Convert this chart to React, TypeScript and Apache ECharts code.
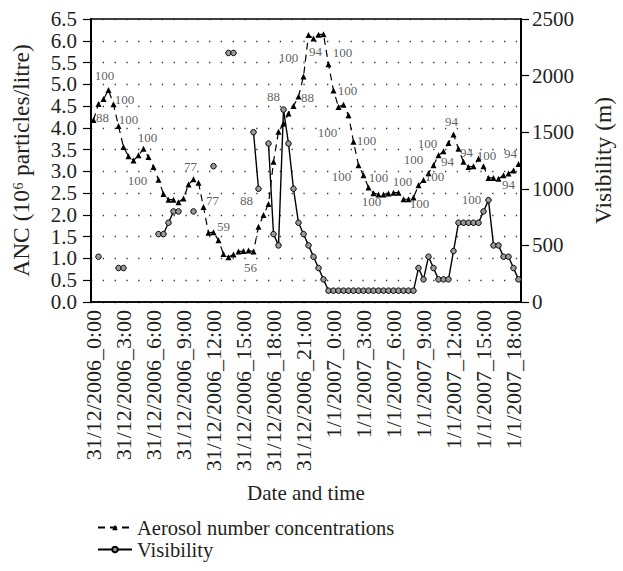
import React, { useEffect, useRef } from "react";
import * as echarts from "echarts";

// 30-minute steps from 31/12/2006 0:00 to 1/1/2007 18:30
const STEP_COUNT = 86;
const categories: string[] = [];
for (let k = 0; k < STEP_COUNT; k++) {
  const day = k < 48 ? "31/12/2006" : "1/1/2007";
  const h = Math.floor(k / 2) % 24;
  const m = k % 2 === 0 ? "00" : "30";
  categories.push(`${day}_${h}:${m}`);
}

// Aerosol number concentrations (10^6 particles/litre)
const ancValues: number[] = [
  4.18, 4.55, 4.66, 4.87, 4.54, 4.04, 3.56, 3.35, 3.25, 3.37,
  3.52, 3.33, 3.1, 2.81, 2.48, 2.35, 2.35, 2.29, 2.38, 2.7,
  2.82, 2.74, 2.18, 1.59, 1.6, 1.42, 1.1, 1.03, 1.09, 1.16,
  1.17, 1.18, 1.16, 1.73, 2.0, 2.25, 3.22, 3.91, 4.1, 4.33,
  4.5, 4.72, 5.18, 6.13, 6.05, 6.14, 6.15, 5.46, 4.86, 4.48,
  4.53, 4.29, 3.68, 3.14, 2.91, 2.63, 2.5, 2.47, 2.47, 2.49,
  2.51, 2.51, 2.36, 2.36, 2.4, 2.68, 2.8, 2.96, 3.14, 3.37,
  3.46, 3.65, 3.85, 3.52, 3.22, 3.1, 3.12, 3.29, 3.12, 2.85,
  2.85, 2.83, 2.91, 2.95, 3.02, 3.17,
];

// Visibility (m); null = no observation
const visibilityValues: (number | null)[] = [
  null, 400, null, null, null, 300, 300, null, null, null,
  null, null, null, 600, 600, 700, 800, 800, null, null,
  800, null, null, null, 1200, null, null, 2200, 2200, null,
  null, null, 1500, 1000, null, 1400, 600, 500, 1700, 1400,
  1000, 700, 600, 500, 400, 300, 200, 100, 100, 100,
  100, 100, 100, 100, 100, 100, 100, 100, 100, 100,
  100, 100, 100, 100, 100, 300, 200, 400, 300, 200,
  200, 200, 450, 700, 700, 700, 700, 700, 800, 900,
  500, 500, 400, 400, 300, 200,
];

// Point annotations on the ANC curve: category index and text
const annotIndex: number[] = [
  3, 0, 4, 5, 10, 13, 20, 22, 24, 31, 35, 39, 42, 44, 41, 47, 48,
  51, 52, 54, 57, 56, 62, 66, 64, 68, 69, 70, 72, 73, 77, 79, 84, 82,
];
const annotText: string[] = [
  "100", "88", "100", "100", "100", "100", "77", "77", "59", "56", "88", "88", "100", "94", "88", "100", "100",
  "100", "100", "100", "100", "100", "100", "100", "100", "100", "100", "94", "94", "94", "100", "100", "94", "94",
];
// label placement (pixel offsets from the point) – styling only
const annotOffset: [number, number][] = [
  [-4, -14], [9, -3], [11, -5], [10, -7], [4, -11], [-21, 1], [-3, -13], [9, -7], [10, -6], [2, 17],
  [-22, -4], [-15, -17], [-15, -19], [2, 13], [9, 1], [14, -12], [14, 0], [-21, 17], [13, -1], [-22, 1],
  [0, -17], [-2, 8], [-1, -18], [-10, -21], [6, 6], [1, 11], [-11, -12], [4, 10], [-2, -13], [8, 4],
  [8, -3], [-17, 22], [-3, -17], [5, 9],
];

const leftTicks = { min: 0, max: 6.5, interval: 0.5 };
const rightTicks = { min: 0, max: 2500, interval: 500 };

const FONT = "Liberation Serif";
const TXT = "#231f20";
const FS = 21;

export default function App() {
  const ref = useRef<HTMLDivElement>(null);
  useEffect(() => {
    if (!ref.current) return;
    const chart = echarts.init(ref.current, undefined, { renderer: "svg" });
    const legendCommon = {
      orient: "horizontal",
      left: 92,
      itemWidth: 34,
      itemHeight: 7,
      textStyle: { fontFamily: FONT, fontSize: 20.5, color: TXT },
    };
    chart.setOption({
      animation: false,
      backgroundColor: "#fff",
      textStyle: { fontFamily: FONT, color: TXT },
      grid: {
        left: 91,
        right: 96,
        top: 19,
        bottom: 269,
        show: true,
        borderColor: "#000",
        borderWidth: 1.5,
      },
      legend: [
        { ...legendCommon, data: ["Aerosol number concentrations"], top: 512 },
        { ...legendCommon, data: ["Visibility"], top: 534 },
      ],
      xAxis: {
        type: "category",
        data: categories,
        boundaryGap: true,
        axisLine: { lineStyle: { color: "#000", width: 1.5 } },
        axisTick: { interval: 2, length: 6, lineStyle: { color: "#000", width: 1.2 } },
        axisLabel: {
          interval: 5,
          rotate: 90,
          fontFamily: FONT,
          fontSize: 22,
          color: TXT,
          margin: 8,
        },
        splitLine: { show: false },
        name: "Date and time",
        nameLocation: "middle",
        nameGap: 180,
        nameTextStyle: { fontFamily: FONT, fontSize: FS, color: TXT },
      },
      yAxis: [
        {
          type: "value",
          ...leftTicks,
          position: "left",
          axisLine: { show: true, lineStyle: { color: "#000", width: 2 } },
          axisTick: { show: true, length: 8, lineStyle: { color: "#000", width: 1.2 } },
          axisLabel: {
            formatter: (v: number) => v.toFixed(1),
            fontFamily: FONT,
            fontSize: FS,
            color: TXT,
            margin: 14,
          },
          splitLine: {
            show: true,
            lineStyle: { color: "#333", width: 1.3, type: [1.3, 10.5] },
          },
          name: "ANC (10\u2076 particles/litre)",
          nameLocation: "middle",
          nameRotate: 90,
          nameGap: 58,
          nameTextStyle: { fontFamily: FONT, fontSize: 23.5, color: TXT },
        },
        {
          type: "value",
          ...rightTicks,
          position: "right",
          axisLine: { show: true, lineStyle: { color: "#000", width: 2 } },
          axisTick: { show: true, length: 8, lineStyle: { color: "#000", width: 1.2 } },
          axisLabel: {
            formatter: (v: number) => String(v),
            fontFamily: FONT,
            fontSize: FS,
            color: TXT,
            margin: 11,
          },
          splitLine: { show: false },
          name: "Visibility (m)",
          nameLocation: "middle",
          nameRotate: 90,
          nameGap: 70,
          nameTextStyle: { fontFamily: FONT, fontSize: 23.5, color: TXT },
        },
      ],
      series: [
        {
          type: "line",
          name: "Aerosol number concentrations",
          data: ancValues,
          yAxisIndex: 0,
          symbol: "triangle",
          symbolSize: 6,
          showAllSymbol: true,
          lineStyle: { color: "#000", width: 1.2, type: [7, 5] },
          itemStyle: { color: "#000" },
          z: 3,
        },
        {
          type: "line",
          name: "Visibility",
          data: visibilityValues,
          yAxisIndex: 1,
          symbol: "circle",
          symbolSize: 5.5,
          showAllSymbol: true,
          connectNulls: false,
          lineStyle: { color: "#000", width: 1.4 },
          itemStyle: { color: "#9a9a9a", borderColor: "#000", borderWidth: 1 },
          z: 4,
        },
        {
          type: "scatter",
          name: "annotations",
          yAxisIndex: 0,
          symbolSize: 0,
          silent: true,
          colorBy: "series",
          z: 5,
          itemStyle: { color: "#333" },
          data: annotIndex.map((i, k) => ({
            value: [i, ancValues[i]],
            name: annotText[k],
            label: { offset: annotOffset[k] },
          })),
          label: {
            show: true,
            position: "inside",
            formatter: (p: any) => p.name,
            fontFamily: FONT,
            fontSize: 13,
            color: "#333",
            textBorderWidth: 0,
            textBorderColor: "transparent",
            align: "center",
            verticalAlign: "middle",
          },
        },
      ],
    });
    return () => chart.dispose();
  }, []);
  return (
    <div
      ref={ref}
      style={{ position: "fixed", left: 0, top: 0, width: 623, height: 571, background: "#fff" }}
    />
  );
}
